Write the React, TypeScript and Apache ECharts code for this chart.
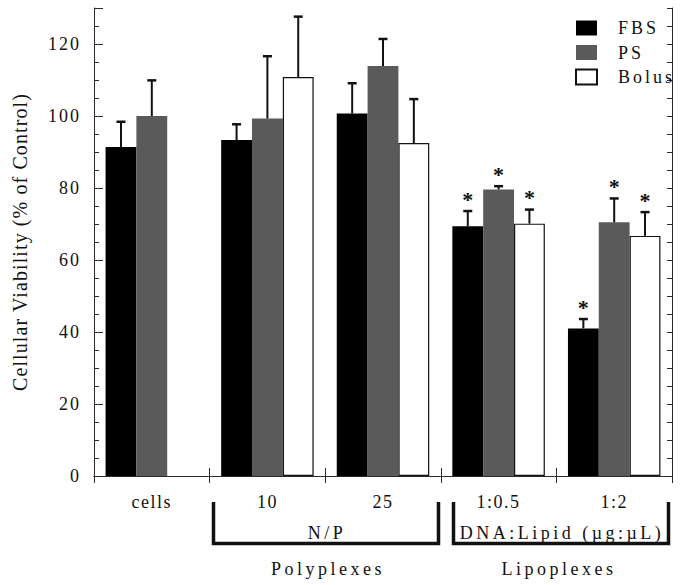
import React, { useEffect, useRef } from "react";
import * as echarts from "echarts";

const categories = ["cells", "10", "25", "1:0.5", "1:2"];
const seriesNames = ["FBS", "PS", "Bolus"];
const fbsValues = [91.4, 93.3, 100.7, 69.4, 41.0];
const fbsErrors = [7.0, 4.4, 8.4, 4.2, 2.6];
const psValues = [100.0, 99.3, 113.9, 79.6, 70.5];
const psErrors = [9.9, 17.3, 7.5, 0.9, 6.6];
const bolusValues: (number | null)[] = [null, 110.8, 92.5, 70.1, 66.7];
const bolusErrors: (number | null)[] = [null, 16.8, 12.2, 3.9, 6.6];
const significant = [false, false, false, true, true];
const yAxisTitle = "Cellular Viability (% of Control)";
const groupSubLabels = ["N/P", "DNA:Lipid (µg:µL)"];
const groupLabels = ["Polyplexes", "Lipoplexes"];

const FONT = "Liberation Serif";
const AX = "#2a2a2a";

function spacingFor(s: string): number {
  if (s === yAxisTitle) return 1.1;
  if (seriesNames.includes(s)) return 3;
  if (groupSubLabels.includes(s) || groupLabels.includes(s)) return 3.5;
  if (categories.includes(s)) return 1.5;
  if (/^\d+$/.test(s)) return 2;
  return 0;
}

function applySpacing(root: HTMLElement) {
  root.querySelectorAll("text").forEach((t) => {
    const ls = spacingFor((t.textContent || "").trim());
    if (ls) t.setAttribute("letter-spacing", String(ls));
  });
}

function errSeries(values: (number | null)[], errors: (number | null)[], k: number) {
  const data: number[][] = [];
  values.forEach((v, i) => {
    if (v != null && errors[i] != null) data.push([i, v, errors[i] as number, significant[i] ? 1 : 0]);
  });
  return {
    type: "custom",
    name: "err" + k,
    z: 5,
    silent: true,
    data,
    encode: { x: 0, y: 1 },
    renderItem: (params: any, api: any) => {
      const i = api.value(0);
      const v = api.value(1);
      const e = api.value(2);
      const star = api.value(3);
      const catW = api.size([1, 0])[0];
      const barW = (catW * 0.8) / 3;
      const base = api.coord([i, v]);
      const x = base[0] + (k - 1) * barW;
      const yTop = base[1];
      const yCap = api.coord([i, v + e])[1];
      const children: any[] = [
        { type: "line", shape: { x1: x, y1: yTop, x2: x, y2: yCap }, style: { stroke: "#111", lineWidth: 2 } },
        { type: "line", shape: { x1: x - 4.5, y1: yCap, x2: x + 4.5, y2: yCap }, style: { stroke: "#111", lineWidth: 2.5 } },
      ];
      if (star) {
        children.push({
          type: "text",
          style: {
            text: "*",
            x,
            y: yCap - 12,
            textAlign: "center",
            textVerticalAlign: "middle",
            align: "center",
            verticalAlign: "middle",
            fontSize: 22,
            fontWeight: "bold",
            fontFamily: FONT,
            fill: "#111",
          },
        });
      }
      return { type: "group", children };
    },
  };
}

export default function App() {
  const ref = useRef<HTMLDivElement>(null);
  useEffect(() => {
    if (!ref.current) return;
    const chart = echarts.init(ref.current, null, { renderer: "svg" });
    const axisLine = { show: true, lineStyle: { color: AX, width: 1 } };
    const txt = (text: string, x: number, y: number) => ({
      type: "text",
      x,
      y,
      style: { text, textAlign: "center", textVerticalAlign: "middle", fontSize: 18, fontFamily: FONT, fill: "#111" },
    });
    const option: any = {
      animation: false,
      backgroundColor: "#fff",
      textStyle: { fontFamily: FONT },
      grid: { left: 94, right: 8, top: 8, bottom: 109, containLabel: false },
      legend: {
        data: seriesNames,
        orient: "vertical",
        left: 570,
        top: 14,
        itemWidth: 21,
        itemHeight: 15,
        itemGap: 6.5,
        icon: "rect",
        selectedMode: false,
        textStyle: { fontSize: 18, color: "#111", fontFamily: FONT, padding: [0, 0, 0, 16], lineHeight: 15 },
      },
      xAxis: [
        {
          type: "category",
          data: categories,
          position: "bottom",
          axisLine,
          axisTick: { show: true, inside: true, length: 8, lineStyle: { color: AX } },
          axisLabel: { fontSize: 18, color: "#111", margin: 17, fontFamily: FONT },
        },
        {
          type: "category",
          data: categories,
          position: "top",
          axisLine,
          axisTick: { show: true, inside: true, length: 7, lineStyle: { color: AX } },
          axisLabel: { show: false },
        },
      ],
      yAxis: [
        {
          type: "value",
          min: 0,
          max: 130,
          interval: 20,
          position: "left",
          axisLine,
          axisTick: { show: true, inside: true, length: 9, lineStyle: { color: AX } },
          axisLabel: {
            fontSize: 18,
            color: "#111",
            margin: 13,
            fontFamily: FONT,
            formatter: (v: number) => (v % 20 === 0 && v <= 120 ? String(v) : ""),
          },
          splitLine: { show: false },
          name: yAxisTitle,
          nameLocation: "middle",
          nameGap: 64,
          nameTextStyle: { fontSize: 20, color: "#111", fontFamily: FONT },
        },
        {
          type: "value",
          min: 0,
          max: 130,
          interval: 5,
          position: "left",
          axisLine: { show: false },
          axisTick: { show: true, inside: true, length: 5, lineStyle: { color: AX } },
          axisLabel: { show: false },
          splitLine: { show: false },
        },
        {
          type: "value",
          min: 0,
          max: 130,
          interval: 5,
          position: "right",
          axisLine,
          axisTick: { show: true, inside: true, length: 5, lineStyle: { color: AX } },
          axisLabel: { show: false },
          splitLine: { show: false },
        },
      ],
      series: [
        { name: "FBS", type: "bar", data: fbsValues, barGap: "0%", barCategoryGap: "20%", itemStyle: { color: "#000" } },
        { name: "PS", type: "bar", data: psValues, barGap: "0%", barCategoryGap: "20%", itemStyle: { color: "#5a5a5a" } },
        {
          name: "Bolus",
          type: "bar",
          data: bolusValues,
          barGap: "0%",
          barCategoryGap: "20%",
          itemStyle: { color: "#fff", borderColor: "#111", borderWidth: 1.2 },
        },
        errSeries(fbsValues, fbsErrors, 0),
        errSeries(psValues, psErrors, 1),
        errSeries(bolusValues, bolusErrors, 2),
      ],
      graphic: [
        {
          type: "polyline",
          shape: { points: [[213.5, 502], [213.5, 543.5], [438.5, 543.5], [438.5, 502]] },
          style: { stroke: "#111", lineWidth: 3.5, fill: null },
        },
        {
          type: "polyline",
          shape: { points: [[453.5, 502], [453.5, 543.5], [668.5, 543.5], [668.5, 502]] },
          style: { stroke: "#111", lineWidth: 3.5, fill: null },
        },
        txt(groupSubLabels[0], 327, 533),
        txt(groupSubLabels[1], 562, 533),
        txt(groupLabels[0], 328, 569),
        txt(groupLabels[1], 559, 569),
      ],
    };
    chart.setOption(option);
    const el = ref.current;
    applySpacing(el);
    chart.on("finished", () => applySpacing(el));
    return () => {
      chart.dispose();
    };
  }, []);
  return <div ref={ref} style={{ width: 680, height: 585, position: "absolute", left: 0, top: 0 }} />;
}
